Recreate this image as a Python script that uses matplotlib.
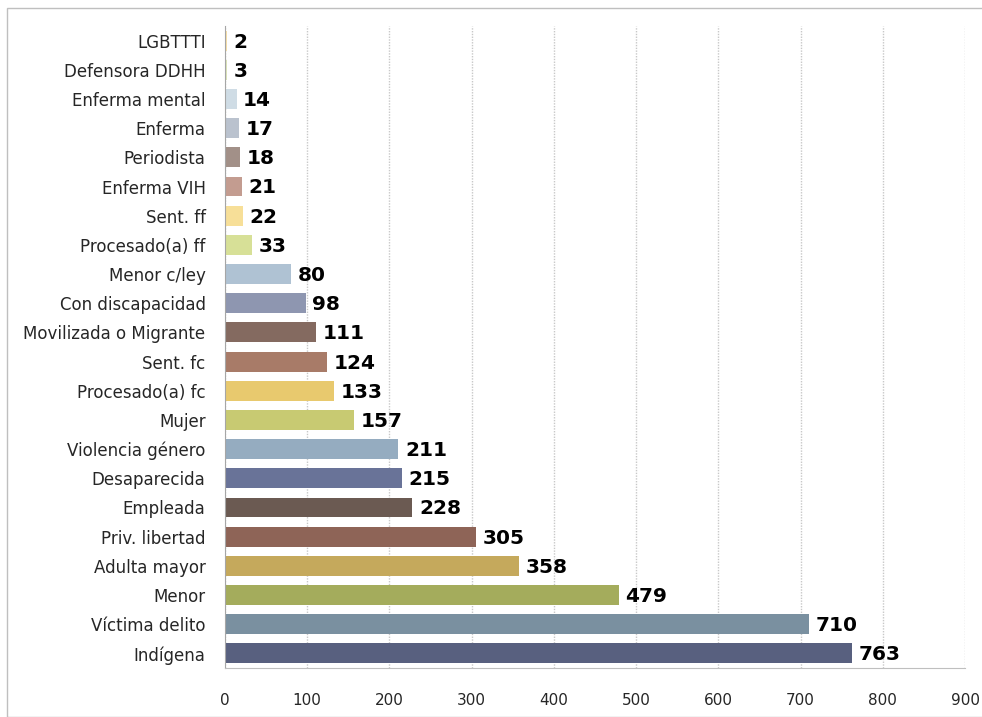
import matplotlib
matplotlib.use("Agg")
import matplotlib.pyplot as plt
from matplotlib.patches import Rectangle

categories = ["Indígena", "Víctima delito", "Menor", "Adulta mayor", "Priv. libertad",
              "Empleada", "Desaparecida", "Violencia género", "Mujer", "Procesado(a) fc",
              "Sent. fc", "Movilizada o Migrante", "Con discapacidad", "Menor c/ley",
              "Procesado(a) ff", "Sent. ff", "Enferma VIH", "Periodista", "Enferma",
              "Enferma mental", "Defensora DDHH", "LGBTTTI"]
values = [763, 710, 479, 358, 305, 228, 215, 211, 157, 133, 124, 111, 98, 80,
          33, 22, 21, 18, 17, 14, 3, 2]
colors = ["#58607F", "#7A90A0", "#A4AC5C", "#C5A95C", "#8E6457", "#6B5A52",
          "#697398", "#95ACC0", "#C8CA72", "#E8C96E", "#A87B68", "#846A60",
          "#8E96B0", "#AFC2D3", "#D7E097", "#F7DF98", "#C39C90", "#A29088",
          "#BAC2CE", "#CFDCE5", "#DCE5B8", "#F8E0A8"]
xticks = [0, 100, 200, 300, 400, 500, 600, 700, 800, 900]

plt.rcParams['font.family'] = ['DejaVu Sans']

fig = plt.figure(figsize=(9.82, 7.17), dpi=100)
fig.patches.append(Rectangle((7/982, 0), 1, 1 - 8/717, transform=fig.transFigure,
                             fill=False, edgecolor="#BFBFBF", linewidth=1.0))
ax = fig.add_axes([225/982, 1 - 668/717, 740/982, (668 - 26)/717])

y = list(range(len(categories)))
ax.barh(y, values, height=0.68, color=colors)
for yi, v in zip(y, values):
    ax.text(v + 8, yi - 0.05, str(v), va="center", ha="left", fontsize=14.5,
            fontweight="bold", color="black")

ax.set_xlim(0, 900)
ax.set_ylim(-0.5, len(categories) - 0.5)
ax.set_yticks(y)
ax.set_yticklabels(categories, fontsize=12, color="#262626")
ax.set_xticks(xticks)
ax.set_xticklabels([str(t) for t in xticks], fontsize=11, color="#262626")
ax.tick_params(axis="both", length=0)
ax.tick_params(axis="x", pad=18)
ax.tick_params(axis="y", pad=14)
ax.grid(axis="x", linestyle=(0, (1, 1)), color="#C8C8C8", linewidth=1.0)
ax.set_axisbelow(True)
for s in ["top", "right"]:
    ax.spines[s].set_visible(False)
ax.spines["left"].set_color("#A6A6A6")
ax.spines["bottom"].set_color("#BFBFBF")

fig.savefig("out.png", dpi=100)
